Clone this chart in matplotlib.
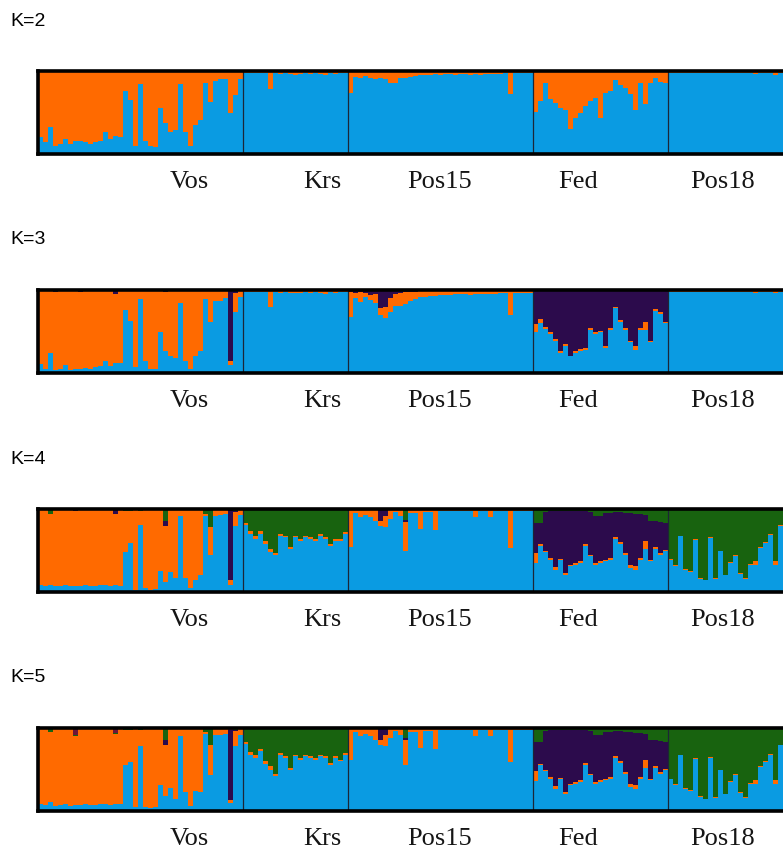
import numpy as np
import matplotlib
matplotlib.use("Agg")
import matplotlib.pyplot as plt
from matplotlib.transforms import blended_transform_factory

# ---------------------------------------------------------------------------
# Populations and STRUCTURE membership coefficients (individuals in order
# Vos | Krs | Pos15 | Fed | Pos18).  Orange is the remaining share of each bar.
# ---------------------------------------------------------------------------
populations = ["Vos", "Krs", "Pos15", "Fed", "Pos18"]
pop_sizes = [41, 21, 37, 27, 23]
label_positions = [30.2, 56.9, 80.4, 108.0, 136.9]
k_values = [2, 3, 4, 5]

# ----- K = 2 -----
k2_blue = (
    [0.21, 0.14, 0.33, 0.10, 0.12, 0.18, 0.12, 0.16, 0.16, 0.14, 0.12, 0.14, 0.16, 0.27,
     0.18, 0.22, 0.20, 0.76, 0.65, 0.10, 0.84, 0.16, 0.10, 0.09, 0.55, 0.37, 0.27, 0.29,
     0.84, 0.27, 0.10, 0.35, 0.41, 0.86, 0.63, 0.88, 0.90, 0.90, 0.49, 0.71, 0.90]
    + [0.97, 0.97, 0.98, 0.97, 0.97, 0.78, 0.97, 0.96, 0.97, 0.96, 0.95, 0.96, 0.97, 0.96,
       0.97, 0.96, 0.95, 0.97, 0.96, 0.97, 0.97]
    + [0.73, 0.93, 0.91, 0.94, 0.92, 0.90, 0.92, 0.90, 0.86, 0.86, 0.92, 0.92, 0.93, 0.94,
       0.95, 0.95, 0.95, 0.96, 0.95, 0.96, 0.96, 0.95, 0.96, 0.96, 0.95, 0.96, 0.95, 0.96,
       0.96, 0.96, 0.96, 0.97, 0.72, 0.97, 0.97, 0.97, 0.97]
    + [0.51, 0.64, 0.85, 0.66, 0.62, 0.55, 0.53, 0.30, 0.43, 0.49, 0.58, 0.64, 0.68, 0.43,
       0.74, 0.76, 0.89, 0.83, 0.80, 0.72, 0.53, 0.85, 0.60, 0.85, 0.91, 0.87, 0.86]
    + [0.98, 0.98, 0.97, 0.98, 0.98, 0.98, 0.97, 0.98, 0.98, 0.98, 0.98, 0.97, 0.98, 0.98,
       0.98, 0.97, 0.98, 0.96, 0.97, 0.98, 0.97, 0.95, 0.98]
)

# ----- K = 3 -----
k3_blue = (
    [0.11, 0.05, 0.24, 0.04, 0.05, 0.10, 0.04, 0.05, 0.05, 0.06, 0.05, 0.07, 0.08, 0.14,
     0.08, 0.12, 0.12, 0.76, 0.63, 0.07, 0.89, 0.14, 0.05, 0.05, 0.49, 0.27, 0.20, 0.18,
     0.84, 0.14, 0.05, 0.20, 0.27, 0.89, 0.61, 0.87, 0.87, 0.90, 0.10, 0.73, 0.92]
    + [0.97, 0.97, 0.97, 0.97, 0.97, 0.79, 0.97, 0.96, 0.97, 0.96, 0.96, 0.96, 0.97, 0.96,
       0.97, 0.96, 0.95, 0.97, 0.96, 0.97, 0.97]
    + [0.68, 0.90, 0.86, 0.92, 0.88, 0.84, 0.70, 0.66, 0.73, 0.81, 0.81, 0.83, 0.87, 0.89,
       0.91, 0.92, 0.93, 0.93, 0.94, 0.94, 0.94, 0.95, 0.95, 0.95, 0.94, 0.95, 0.95, 0.95,
       0.95, 0.95, 0.96, 0.96, 0.70, 0.96, 0.96, 0.96, 0.96]
    + [0.49, 0.60, 0.53, 0.47, 0.39, 0.24, 0.33, 0.20, 0.24, 0.27, 0.28, 0.52, 0.47, 0.49,
       0.30, 0.52, 0.78, 0.62, 0.52, 0.37, 0.28, 0.52, 0.52, 0.37, 0.75, 0.71, 0.60]
    + [0.97, 0.98, 0.97, 0.98, 0.98, 0.98, 0.98, 0.98, 0.98, 0.98, 0.98, 0.98, 0.98, 0.98,
       0.98, 0.98, 0.97, 0.96, 0.97, 0.98, 0.97, 0.96, 0.97]
)
k3_purple = (
    [0.01, 0.01, 0.01, 0.02, 0.01, 0.01, 0.01, 0.01, 0.02, 0.01, 0.01, 0.01, 0.01, 0.01,
     0.01, 0.05, 0.01, 0.01, 0.01, 0.01, 0.01, 0.01, 0.01, 0.01, 0.01, 0.03, 0.01, 0.01,
     0.01, 0.01, 0.01, 0.01, 0.01, 0.01, 0.01, 0.01, 0.01, 0.01, 0.85, 0.04, 0.01]
    + [0.00, 0.00, 0.00, 0.00, 0.00, 0.00, 0.00, 0.00, 0.00, 0.00, 0.00, 0.00, 0.00, 0.00,
       0.00, 0.00, 0.00, 0.00, 0.00, 0.00, 0.00]
    + [0.02, 0.04, 0.03, 0.04, 0.06, 0.05, 0.22, 0.20, 0.10, 0.05, 0.04, 0.03, 0.02, 0.02,
       0.01, 0.01, 0.01, 0.01, 0.01, 0.01, 0.01, 0.01, 0.01, 0.01, 0.01, 0.01, 0.01, 0.01,
       0.01, 0.01, 0.01, 0.01, 0.01, 0.01, 0.01, 0.01, 0.01]
    + [0.41, 0.35, 0.45, 0.51, 0.59, 0.74, 0.65, 0.79, 0.74, 0.71, 0.70, 0.46, 0.51, 0.49,
       0.68, 0.46, 0.20, 0.36, 0.46, 0.61, 0.68, 0.46, 0.39, 0.61, 0.23, 0.27, 0.38]
    + [0.00, 0.00, 0.00, 0.00, 0.00, 0.00, 0.00, 0.00, 0.00, 0.00, 0.00, 0.00, 0.00, 0.00,
       0.00, 0.00, 0.00, 0.00, 0.00, 0.00, 0.00, 0.00, 0.00]
)

# ----- K = 4 -----
k4_blue = (
    [0.08, 0.07, 0.09, 0.07, 0.07, 0.08, 0.07, 0.07, 0.07, 0.08, 0.07, 0.07, 0.08, 0.08,
     0.07, 0.08, 0.07, 0.48, 0.59, 0.03, 0.81, 0.05, 0.03, 0.04, 0.25, 0.12, 0.24, 0.17,
     0.92, 0.17, 0.05, 0.14, 0.20, 0.91, 0.45, 0.92, 0.93, 0.94, 0.09, 0.79, 0.93]
    + [0.81, 0.70, 0.64, 0.70, 0.58, 0.48, 0.44, 0.68, 0.66, 0.52, 0.66, 0.62, 0.66, 0.64,
       0.62, 0.68, 0.64, 0.56, 0.62, 0.62, 0.70]
    + [0.54, 0.95, 0.90, 0.93, 0.90, 0.86, 0.80, 0.78, 0.88, 0.96, 0.92, 0.49, 0.95, 0.95,
       0.76, 0.96, 0.96, 0.75, 0.97, 0.97, 0.97, 0.97, 0.97, 0.97, 0.97, 0.90, 0.97, 0.97,
       0.90, 0.97, 0.97, 0.97, 0.53, 0.98, 0.98, 0.98, 0.98]
    + [0.35, 0.56, 0.48, 0.39, 0.27, 0.38, 0.21, 0.31, 0.33, 0.35, 0.56, 0.43, 0.33, 0.35,
       0.37, 0.39, 0.64, 0.58, 0.45, 0.29, 0.27, 0.39, 0.52, 0.37, 0.52, 0.45, 0.49]
    + [0.39, 0.31, 0.67, 0.27, 0.24, 0.63, 0.16, 0.14, 0.65, 0.16, 0.49, 0.20, 0.35, 0.43,
       0.22, 0.16, 0.33, 0.33, 0.53, 0.59, 0.69, 0.33, 0.80]
)
k4_purple = (
    [0.00, 0.00, 0.00, 0.00, 0.00, 0.00, 0.00, 0.01, 0.00, 0.00, 0.00, 0.00, 0.00, 0.00,
     0.00, 0.05, 0.00, 0.00, 0.00, 0.00, 0.00, 0.00, 0.00, 0.00, 0.00, 0.06, 0.00, 0.00,
     0.00, 0.00, 0.00, 0.00, 0.00, 0.00, 0.00, 0.00, 0.00, 0.00, 0.85, 0.02, 0.00]
    + [0.00, 0.00, 0.00, 0.00, 0.00, 0.00, 0.00, 0.00, 0.00, 0.00, 0.00, 0.00, 0.00, 0.00,
       0.00, 0.00, 0.00, 0.00, 0.00, 0.00, 0.00]
    + [0.00, 0.00, 0.00, 0.00, 0.00, 0.01, 0.13, 0.08, 0.01, 0.00, 0.00, 0.03, 0.00, 0.00,
       0.00, 0.00, 0.00, 0.00, 0.00, 0.00, 0.00, 0.00, 0.00, 0.00, 0.00, 0.00, 0.00, 0.00,
       0.00, 0.00, 0.00, 0.00, 0.00, 0.00, 0.00, 0.00, 0.00]
    + [0.36, 0.25, 0.46, 0.56, 0.67, 0.57, 0.74, 0.64, 0.62, 0.60, 0.39, 0.51, 0.56, 0.54,
       0.56, 0.54, 0.30, 0.36, 0.48, 0.62, 0.63, 0.53, 0.31, 0.47, 0.32, 0.37, 0.32]
    + [0.00, 0.00, 0.00, 0.00, 0.00, 0.00, 0.00, 0.00, 0.00, 0.00, 0.00, 0.00, 0.00, 0.00,
       0.00, 0.00, 0.00, 0.00, 0.00, 0.00, 0.00, 0.00, 0.00]
)
k4_green = (
    [0.01, 0.01, 0.06, 0.01, 0.01, 0.01, 0.01, 0.01, 0.01, 0.01, 0.01, 0.01, 0.01, 0.01,
     0.01, 0.01, 0.01, 0.02, 0.02, 0.01, 0.02, 0.01, 0.01, 0.01, 0.01, 0.15, 0.01, 0.01,
     0.01, 0.01, 0.01, 0.01, 0.01, 0.06, 0.22, 0.01, 0.01, 0.01, 0.01, 0.02, 0.01]
    + [0.17, 0.27, 0.33, 0.27, 0.39, 0.48, 0.53, 0.30, 0.32, 0.46, 0.32, 0.36, 0.32, 0.34,
       0.36, 0.30, 0.34, 0.42, 0.36, 0.36, 0.28]
    + [0.00, 0.00, 0.00, 0.00, 0.00, 0.00, 0.01, 0.00, 0.00, 0.00, 0.01, 0.13, 0.00, 0.00,
       0.00, 0.00, 0.00, 0.00, 0.00, 0.00, 0.00, 0.00, 0.00, 0.00, 0.00, 0.00, 0.00, 0.00,
       0.00, 0.00, 0.00, 0.00, 0.00, 0.00, 0.00, 0.00, 0.00]
    + [0.17, 0.17, 0.04, 0.03, 0.03, 0.03, 0.03, 0.03, 0.03, 0.03, 0.03, 0.04, 0.09, 0.09,
       0.05, 0.05, 0.04, 0.04, 0.05, 0.05, 0.06, 0.06, 0.07, 0.14, 0.14, 0.16, 0.17]
    + [0.60, 0.68, 0.32, 0.72, 0.75, 0.36, 0.83, 0.85, 0.34, 0.83, 0.50, 0.79, 0.64, 0.56,
       0.77, 0.83, 0.66, 0.63, 0.46, 0.40, 0.30, 0.63, 0.19]
)

# ----- K = 5 -----
k5_blue = (
    [0.08, 0.07, 0.11, 0.06, 0.07, 0.08, 0.06, 0.07, 0.07, 0.08, 0.07, 0.07, 0.08, 0.08,
     0.07, 0.08, 0.08, 0.55, 0.59, 0.05, 0.78, 0.05, 0.04, 0.05, 0.31, 0.18, 0.28, 0.15,
     0.90, 0.23, 0.06, 0.24, 0.23, 0.93, 0.43, 0.92, 0.92, 0.93, 0.10, 0.78, 0.92]
    + [0.81, 0.68, 0.64, 0.72, 0.57, 0.50, 0.42, 0.68, 0.64, 0.50, 0.66, 0.62, 0.66, 0.64,
       0.62, 0.66, 0.64, 0.56, 0.64, 0.60, 0.68]
    + [0.61, 0.95, 0.90, 0.93, 0.90, 0.86, 0.80, 0.78, 0.88, 0.96, 0.92, 0.56, 0.95, 0.95,
       0.76, 0.96, 0.96, 0.75, 0.97, 0.97, 0.97, 0.97, 0.97, 0.97, 0.97, 0.90, 0.97, 0.97,
       0.90, 0.97, 0.97, 0.97, 0.59, 0.98, 0.98, 0.98, 0.98]
    + [0.36, 0.55, 0.48, 0.39, 0.27, 0.38, 0.21, 0.31, 0.33, 0.35, 0.56, 0.43, 0.33, 0.35,
       0.37, 0.39, 0.64, 0.58, 0.45, 0.29, 0.27, 0.39, 0.52, 0.37, 0.52, 0.45, 0.49]
    + [0.38, 0.31, 0.67, 0.27, 0.24, 0.63, 0.17, 0.14, 0.64, 0.16, 0.49, 0.20, 0.35, 0.43,
       0.22, 0.16, 0.33, 0.33, 0.53, 0.59, 0.68, 0.33, 0.79]
)
k5_purple = (
    [0.00, 0.00, 0.00, 0.00, 0.00, 0.00, 0.00, 0.00, 0.00, 0.00, 0.00, 0.00, 0.00, 0.00,
     0.00, 0.00, 0.00, 0.00, 0.00, 0.00, 0.00, 0.00, 0.00, 0.00, 0.00, 0.06, 0.00, 0.00,
     0.00, 0.00, 0.00, 0.00, 0.00, 0.00, 0.00, 0.00, 0.00, 0.00, 0.84, 0.02, 0.00]
    + [0.00, 0.00, 0.00, 0.00, 0.00, 0.00, 0.00, 0.00, 0.00, 0.00, 0.00, 0.00, 0.00, 0.00,
       0.00, 0.00, 0.00, 0.00, 0.00, 0.00, 0.00]
    + [0.00, 0.00, 0.00, 0.00, 0.00, 0.01, 0.13, 0.08, 0.01, 0.00, 0.00, 0.03, 0.00, 0.00,
       0.00, 0.00, 0.00, 0.00, 0.00, 0.00, 0.00, 0.00, 0.00, 0.00, 0.00, 0.00, 0.00, 0.00,
       0.00, 0.00, 0.00, 0.00, 0.00, 0.00, 0.00, 0.00, 0.00]
    + [0.35, 0.26, 0.46, 0.56, 0.67, 0.57, 0.74, 0.64, 0.62, 0.60, 0.39, 0.51, 0.56, 0.54,
       0.56, 0.54, 0.30, 0.36, 0.48, 0.62, 0.63, 0.53, 0.31, 0.47, 0.32, 0.37, 0.32]
    + [0.00, 0.00, 0.00, 0.00, 0.00, 0.00, 0.00, 0.00, 0.00, 0.00, 0.00, 0.00, 0.00, 0.00,
       0.00, 0.00, 0.00, 0.00, 0.00, 0.00, 0.00, 0.00, 0.00]
)
k5_green = (
    [0.01, 0.01, 0.05, 0.01, 0.01, 0.01, 0.01, 0.01, 0.01, 0.01, 0.01, 0.01, 0.01, 0.01,
     0.01, 0.01, 0.01, 0.02, 0.02, 0.01, 0.02, 0.01, 0.01, 0.01, 0.01, 0.15, 0.01, 0.01,
     0.01, 0.01, 0.01, 0.01, 0.01, 0.05, 0.20, 0.01, 0.01, 0.01, 0.01, 0.02, 0.01]
    + [0.17, 0.29, 0.33, 0.25, 0.40, 0.46, 0.55, 0.30, 0.34, 0.48, 0.32, 0.36, 0.32, 0.34,
       0.36, 0.32, 0.34, 0.42, 0.34, 0.38, 0.30]
    + [0.00, 0.00, 0.00, 0.00, 0.00, 0.00, 0.01, 0.00, 0.00, 0.00, 0.01, 0.12, 0.00, 0.00,
       0.00, 0.00, 0.00, 0.00, 0.00, 0.00, 0.00, 0.00, 0.00, 0.00, 0.00, 0.00, 0.00, 0.00,
       0.00, 0.00, 0.00, 0.00, 0.00, 0.00, 0.00, 0.00, 0.00]
    + [0.17, 0.17, 0.04, 0.03, 0.03, 0.03, 0.03, 0.03, 0.03, 0.03, 0.03, 0.04, 0.09, 0.09,
       0.05, 0.05, 0.04, 0.04, 0.05, 0.05, 0.06, 0.06, 0.07, 0.14, 0.14, 0.16, 0.17]
    + [0.61, 0.68, 0.32, 0.72, 0.75, 0.36, 0.82, 0.85, 0.35, 0.83, 0.50, 0.79, 0.64, 0.56,
       0.77, 0.83, 0.66, 0.63, 0.46, 0.40, 0.31, 0.63, 0.20]
)
k5_maroon = (
    [0.00, 0.00, 0.00, 0.00, 0.00, 0.00, 0.00, 0.09, 0.00, 0.00, 0.00, 0.00, 0.00, 0.00,
     0.00, 0.06, 0.00, 0.00, 0.00, 0.00, 0.00, 0.00, 0.00, 0.00, 0.00, 0.00, 0.00, 0.00,
     0.00, 0.00, 0.00, 0.00, 0.00, 0.00, 0.00, 0.00, 0.00, 0.00, 0.02, 0.00, 0.00]
    + [0.00, 0.00, 0.00, 0.00, 0.00, 0.00, 0.00, 0.00, 0.00, 0.00, 0.00, 0.00, 0.00, 0.00,
       0.00, 0.00, 0.00, 0.00, 0.00, 0.00, 0.00]
    + [0.00, 0.00, 0.00, 0.00, 0.00, 0.00, 0.00, 0.00, 0.00, 0.00, 0.00, 0.00, 0.00, 0.00,
       0.00, 0.00, 0.00, 0.00, 0.00, 0.00, 0.00, 0.00, 0.00, 0.00, 0.00, 0.00, 0.00, 0.00,
       0.00, 0.00, 0.00, 0.00, 0.00, 0.00, 0.00, 0.00, 0.00]
    + [0.00, 0.00, 0.00, 0.00, 0.00, 0.00, 0.00, 0.00, 0.00, 0.00, 0.00, 0.00, 0.00, 0.00,
       0.00, 0.00, 0.00, 0.00, 0.00, 0.00, 0.00, 0.00, 0.00, 0.00, 0.00, 0.00, 0.00]
    + [0.00, 0.00, 0.00, 0.00, 0.00, 0.00, 0.00, 0.00, 0.00, 0.00, 0.00, 0.00, 0.00, 0.00,
       0.00, 0.00, 0.00, 0.00, 0.00, 0.00, 0.00, 0.00, 0.00]
)

# cluster colours
BLUE = "#0a9be2"
ORANGE = "#ff6a00"
PURPLE = "#2c0b4c"
GREEN = "#18630f"
MAROON = "#6e1638"

# explicit clusters per K, stacked bottom-up after blue and orange
panels = {
    2: (k2_blue, []),
    3: (k3_blue, [(k3_purple, PURPLE)]),
    4: (k4_blue, [(k4_purple, PURPLE), (k4_green, GREEN)]),
    5: (k5_blue, [(k5_purple, PURPLE), (k5_green, GREEN), (k5_maroon, MAROON)]),
}

# ---------------------------------------------------------------------------
W, H = 783, 850
fig = plt.figure(figsize=(W / 100, H / 100), dpi=100)
fig.patch.set_facecolor("white")

panel_tops = [71, 290, 509, 728]     # pixel rows of the panel top edges
panel_height = 83
left_px = 38

n_ind = sum(pop_sizes)
x = np.arange(n_ind) + 0.5
boundaries = np.cumsum(pop_sizes)[:-1]

for k, top in zip(k_values, panel_tops):
    blue, extras = panels[k]
    blue = np.asarray(blue)
    extra_vals = [np.asarray(v) for v, _ in extras]
    orange = np.clip(1.0 - blue - sum(extra_vals, np.zeros(n_ind)), 0, 1)

    ax = fig.add_axes([left_px / W, 1 - (top + panel_height) / H,
                       (W - left_px) / W, panel_height / H])
    layers = [(blue, BLUE), (orange, ORANGE)] + [(v, c) for v, (_, c) in zip(extra_vals, extras)]
    bottom = np.zeros(n_ind)
    for vals, col in layers:
        ax.bar(x, vals, width=1.0, bottom=bottom, color=col, linewidth=0)
        bottom = bottom + vals

    for b in boundaries:
        ax.axvline(b, color="#1c2636", lw=0.9)

    ax.set_xlim(0, n_ind)
    ax.set_ylim(0, 1)
    ax.set_xticks([])
    ax.set_yticks([])
    for side in ("top", "bottom", "left"):
        ax.spines[side].set_linewidth(2.6)
        ax.spines[side].set_color("black")
    ax.spines["right"].set_visible(False)

    trans = blended_transform_factory(ax.transData, ax.transAxes)
    for name, pos in zip(populations, label_positions):
        ax.text(pos, -0.34, name, transform=trans, ha="center", va="center",
                family="Liberation Serif", fontsize=19, color="#151515")

    fig.text(10 / W, 1 - (top - 50) / H, f"K={k}", ha="left", va="center",
             family="Liberation Sans", fontsize=14, color="black")

fig.savefig("out.png", dpi=100)
